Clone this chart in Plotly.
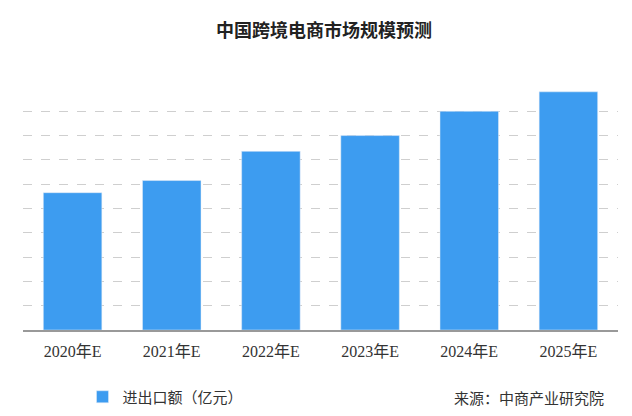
import plotly.graph_objects as go

years = ['2020年E', '2021年E', '2022年E', '2023年E', '2024年E', '2025年E']
values = [11.3, 12.3, 14.7, 16.0, 18.0, 19.6]

fig = go.Figure(go.Bar(x=years, y=values, name='进出口额（亿元）',
                       marker_color='#3d9cf0', width=0.59))

fig.update_layout(
    width=632, height=416,
    title=dict(text='<b>中国跨境电商市场规模预测</b>', x=0.5, y=1 - 23 / 416, xanchor='center',
               yanchor='middle', yref='container', font=dict(size=18, color='#222')),
    font=dict(family='Noto Sans CJK SC', color='#333'),
    plot_bgcolor='white', paper_bgcolor='white',
    margin=dict(l=15, r=22, t=78, b=94, autoexpand=False),
    showlegend=True,
    legend=dict(orientation='h', x=0.1, y=1 - 389 / 416, yref='container', xanchor='left',
                yanchor='middle', itemwidth=30, font=dict(size=15, color='#333')),
    xaxis=dict(showline=True, linecolor='#999', linewidth=1.5, ticks='', ticklabelstandoff=6,
               tickfont=dict(family='Liberation Serif, Noto Sans CJK SC', size=16, color='#333')),
    yaxis=dict(range=[0, 20.08], dtick=2, showticklabels=False, showgrid=True,
               gridcolor='#cfcfcf', griddash='dash', gridwidth=1, zeroline=False),
    annotations=[dict(text='来源：中商产业研究院', x=0.98, y=-(397 - 330) / 243,
                      xref='paper', yref='paper', xanchor='right', yanchor='middle',
                      showarrow=False, font=dict(size=15, color='#333'))],
)

fig.write_html('out.html')
